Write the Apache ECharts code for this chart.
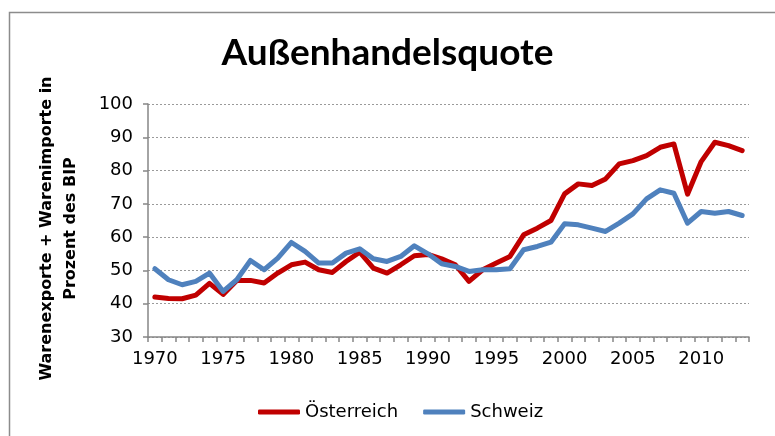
<!DOCTYPE html>
<html>
<head>
<meta charset="utf-8">
<script src="https://cdn.jsdelivr.net/npm/echarts@6/dist/echarts.min.js"></script>
<style>
  html, body { margin: 0; padding: 0; background: #fff; }
  #chart { width: 775px; height: 436px; }
</style>
</head>
<body>
<div id="chart"></div>
<script>
// ── Data ─────────────────────────────────────────────────────────────────
const YEARS = Array.from({ length: 44 }, (_, i) => String(1970 + i))

const AUSTRIA = [
  42.0, 41.6, 41.5, 42.6, 46.1, 42.8, 47.0, 47.0, 46.2, 49.2,
  51.7, 52.5, 50.2, 49.4, 52.7, 55.5, 50.7, 49.2, 51.7, 54.4,
  54.8, 53.5, 51.7, 46.7, 50.2, 52.2, 54.2, 60.7, 62.7, 65.0,
  73.0, 76.0, 75.5, 77.5, 82.0, 83.0, 84.5, 87.0, 88.0, 72.9,
  82.7, 88.5, 87.5, 86.0
]

const SWITZERLAND = [
  50.5, 47.2, 45.7, 46.7, 49.2, 43.7, 47.2, 53.0, 50.2, 53.7,
  58.4, 55.7, 52.2, 52.2, 55.2, 56.5, 53.5, 52.7, 54.2, 57.4,
  55.0, 52.0, 51.2, 49.7, 50.2, 50.2, 50.5, 56.2, 57.2, 58.5,
  64.0, 63.7, 62.7, 61.7, 64.2, 67.0, 71.5, 74.2, 73.2, 64.2,
  67.7, 67.2, 67.7, 66.5
]

// Calibri is not around: Lato for the title, DejaVu Sans for the wide small text
const TITLE_FONT = 'Lato, "Open Sans", sans-serif'
const SMALL_FONT = '"DejaVu Sans", sans-serif'
const AXIS_GRAY = '#868686'

// ── Chart ────────────────────────────────────────────────────────────────
const chart = echarts.init(document.getElementById('chart'), null, { renderer: 'canvas' })

chart.setOption({
  animation: false,
  textStyle: { fontFamily: SMALL_FONT },
  title: {
    text: 'Außenhandelsquote',
    left: 'center',
    top: 30,
    textStyle: { fontFamily: TITLE_FONT, fontSize: 37, fontWeight: 'bold', color: '#000' }
  },
  graphic: [
    {
      type: 'rect',
      left: 7,
      top: 10,
      shape: { width: 800, height: 500 },
      style: { fill: 'none', stroke: '#8c8c8c', lineWidth: 1.5 },
      silent: true
    }
  ],
  legend: {
    top: 398,
    left: 253,
    itemGap: 25,
    itemWidth: 42,
    itemHeight: 5,
    icon: 'roundRect',
    textStyle: { fontFamily: SMALL_FONT, fontSize: 18, color: '#000' },
    data: ['Österreich', 'Schweiz']
  },
  grid: { left: 148, right: 26, top: 104, bottom: 99 },
  xAxis: {
    type: 'category',
    data: YEARS,
    boundaryGap: true,
    axisLine: { lineStyle: { color: AXIS_GRAY, width: 1.5 } },
    axisTick: { show: true, interval: 0, length: 5, lineStyle: { color: AXIS_GRAY, width: 1.5 } },
    axisLabel: { interval: 4, margin: 13, fontFamily: SMALL_FONT, fontSize: 18, color: '#000' }
  },
  yAxis: {
    type: 'value',
    min: 30,
    max: 100,
    interval: 10,
    name: 'Warenexporte + Warenimporte in\nProzent des BIP',
    nameLocation: 'middle',
    nameGap: 65,
    nameTextStyle: {
      fontFamily: SMALL_FONT, fontSize: 16, fontWeight: 'bold', color: '#000',
      lineHeight: 24, padding: [0, 16, 0, 0]
    },
    axisLine: { show: true, lineStyle: { color: AXIS_GRAY, width: 1.5 } },
    axisTick: { show: true, length: 5, lineStyle: { color: AXIS_GRAY, width: 1.5 } },
    axisLabel: { margin: 15, fontFamily: SMALL_FONT, fontSize: 18, color: '#000' },
    splitLine: { lineStyle: { color: '#9a9a9a', type: [2, 2], width: 1 } }
  },
  series: [
    {
      name: 'Österreich',
      type: 'line',
      data: AUSTRIA,
      symbol: 'none',
      color: '#C00000',
      lineStyle: { width: 5, color: '#C00000', join: 'round', cap: 'round' }
    },
    {
      name: 'Schweiz',
      type: 'line',
      data: SWITZERLAND,
      symbol: 'none',
      color: '#4F81BD',
      lineStyle: { width: 5, color: '#4F81BD', join: 'round', cap: 'round' }
    }
  ]
})
</script>
</body>
</html>
